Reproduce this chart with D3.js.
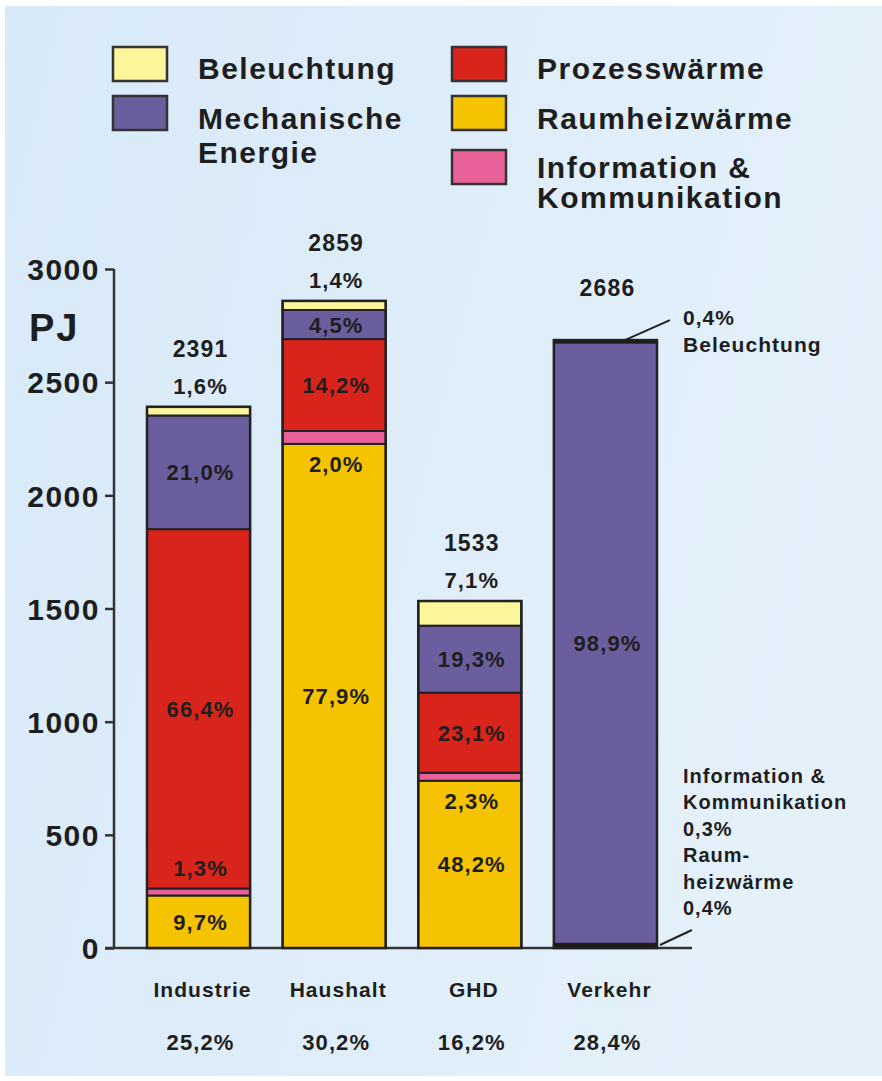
<!DOCTYPE html>
<html>
<head>
<meta charset="utf-8">
<script src="https://cdn.jsdelivr.net/npm/d3@7"></script>
<style>
  html, body { margin: 0; padding: 0; background: #fff; }
  svg text { font-family: "Liberation Sans", Arial, sans-serif; font-weight: bold; fill: #1e1e1e; letter-spacing: 0.05em; }
</style>
</head>
<body>
<svg id="chart" width="882" height="1081"></svg>
<script>
// Endenergie nach Sektoren und Anwendungen (PJ / Anteile in %)
const categories = ["Industrie", "Haushalt", "GHD", "Verkehr"];
const totals = [2391, 2859, 1533, 2686];
const sectorShares = ["25,2%", "30,2%", "16,2%", "28,4%"];

// Anteile je Anwendung in % (von unten nach oben gestapelt)
const raumheizwaerme = [9.7, 77.9, 48.2, 0.4];
const information = [1.3, 2.0, 2.3, 0.3];
const prozesswaerme = [66.4, 14.2, 23.1, 0];
const mechanisch = [21.0, 4.5, 19.3, 98.9];
const beleuchtung = [1.6, 1.4, 7.1, 0.4];

const yTicks = [0, 500, 1000, 1500, 2000, 2500, 3000];

const keys = ["raum", "info", "prozess", "mech", "bel"];
const colors = {
    raum: "#f6c300",
    info: "#e8609a",
    prozess: "#d9241b",
    mech: "#6b5e9f",
    bel: "#fdf59c"
};

const svg = d3.select("#chart");

// background
const defs = svg.append("defs");
const grad = defs.append("linearGradient").attr("id", "bg")
    .attr("x1", 0).attr("y1", 0).attr("x2", 1).attr("y2", 0.3);
grad.append("stop").attr("offset", "0%").attr("stop-color", "#d8e9f8");
grad.append("stop").attr("offset", "100%").attr("stop-color", "#e4f1fb");
svg.append("rect").attr("x", 5).attr("y", 6).attr("width", 877).attr("height", 1070)
    .attr("fill", "url(#bg)");

// rows in PJ
const rows = categories.map((c, i) => {
    const t = totals[i];
    return {
        cat: c, total: t,
        raum: t * raumheizwaerme[i] / 100,
        info: t * information[i] / 100,
        prozess: t * prozesswaerme[i] / 100,
        mech: t * mechanisch[i] / 100,
        bel: t * beleuchtung[i] / 100
    };
});
const pct = {raum: raumheizwaerme, info: information, prozess: prozesswaerme, mech: mechanisch, bel: beleuchtung};

const y = d3.scaleLinear().domain([0, 3000]).range([948, 269]);
const x = d3.scaleBand().domain(categories).range([147, 657]).paddingInner(0.24).paddingOuter(0);

const fmt = v => v.toFixed(1).replace(".", ",") + "%";

// y axis
const axis = svg.append("g").attr("transform", "translate(114,0)")
    .call(d3.axisLeft(y).tickValues(yTicks).tickSize(9).tickPadding(5).tickFormat(d => d));
axis.attr("font-family", null).attr("font-size", null);
axis.select(".domain").attr("stroke", "#333").attr("stroke-width", 2.5).attr("d", "M0,269V948");
axis.selectAll(".tick line").attr("stroke", "#333").attr("stroke-width", 2.5);
axis.selectAll(".tick text").attr("font-size", 30).attr("dy", "0.36em");

svg.append("text").attr("x", 29).attr("y", 341).attr("font-size", 38).text("PJ");

// baseline
svg.append("line").attr("x1", 105).attr("x2", 692).attr("y1", 948).attr("y2", 948)
    .attr("stroke", "#333").attr("stroke-width", 2.5);

// stacked bars
const stacked = d3.stack().keys(keys)(rows);
const layers = svg.append("g").selectAll("g").data(stacked).join("g")
    .attr("fill", d => colors[d.key]);
layers.selectAll("rect").data(d => d).join("rect")
    .attr("x", d => x(d.data.cat))
    .attr("width", x.bandwidth())
    .attr("y", d => y(d[1]))
    .attr("height", d => y(d[0]) - y(d[1]))
    .attr("stroke", "#222").attr("stroke-width", 2);

// Verkehr: very thin segments drawn as dark edges
const vRow = rows[3];
svg.append("g").attr("fill", "#1a1a1a").selectAll("rect")
    .data([[vRow.total - vRow.bel, vRow.total], [0, vRow.raum + vRow.info]]).join("rect")
    .attr("x", x("Verkehr")).attr("width", x.bandwidth())
    .attr("y", d => y(d[1])).attr("height", d => y(d[0]) - y(d[1]));

// bar outlines
svg.append("g").selectAll("rect").data(rows).join("rect")
    .attr("x", d => x(d.cat)).attr("width", x.bandwidth())
    .attr("y", d => y(d.total)).attr("height", d => y(0) - y(d.total))
    .attr("fill", "none").attr("stroke", "#222").attr("stroke-width", 2.5);

// segment labels
const labels = svg.append("g").attr("text-anchor", "middle").attr("font-size", 22);
stacked.forEach(layer => {
    layer.forEach((d, i) => {
        const cat = categories[i];
        if (cat === "Verkehr" && layer.key !== "mech") return;
        const v = pct[layer.key][i];
        if (!v) return;
        const cx = x(cat) + x.bandwidth() / 2 + 2;
        let yy;
        if (layer.key === "bel") {
            yy = y(d[1]) - 13;
        } else if (layer.key === "info") {
            yy = cat === "Industrie" ? y(d[1]) - 12 : y(d[0]) + 28;
        } else {
            yy = (y(d[0]) + y(d[1])) / 2 + 8;
        }
        labels.append("text").attr("x", cx).attr("y", yy).text(fmt(v));
    });
});

// totals
svg.append("g").attr("text-anchor", "middle").attr("font-size", 23)
    .selectAll("text").data(rows).join("text")
    .attr("x", d => x(d.cat) + x.bandwidth() / 2 + 2)
    .attr("y", d => y(d.total) - (d.cat === "Verkehr" ? 44 : 50))
    .text(d => d.total);

// category labels + sector shares
svg.append("g").attr("text-anchor", "middle").attr("font-size", 21)
    .selectAll("text").data(categories).join("text")
    .attr("x", d => x(d) + x.bandwidth() / 2 + 4)
    .attr("y", 997).text(d => d);
svg.append("g").attr("text-anchor", "middle").attr("font-size", 22)
    .selectAll("text").data(sectorShares).join("text")
    .attr("x", (d, i) => x(categories[i]) + x.bandwidth() / 2 + 2)
    .attr("y", 1050).text(d => d);

// Verkehr annotations
const vx = x("Verkehr");
const vTop = y(totals[3]);
svg.append("line").attr("x1", vx + 71).attr("y1", vTop).attr("x2", vx + 116).attr("y2", vTop - 20)
    .attr("stroke", "#222").attr("stroke-width", 2);
svg.append("g").attr("font-size", 21).selectAll("text")
    .data([fmt(beleuchtung[3]), "Beleuchtung"]).join("text")
    .attr("x", 683).attr("y", (d, i) => 325 + i * 27).text(d => d);

svg.append("line").attr("x1", vx + x.bandwidth() + 3).attr("y1", y(0) - 3).attr("x2", vx + 138).attr("y2", y(0) - 18)
    .attr("stroke", "#222").attr("stroke-width", 2);
svg.append("g").attr("font-size", 20).selectAll("text")
    .data(["Information &", "Kommunikation", fmt(information[3]), "Raum-", "heizwärme", fmt(raumheizwaerme[3])])
    .join("text")
    .attr("x", 683).attr("y", (d, i) => 783 + i * 26.4).text(d => d);

// legend
const legendItems = [
    {key: "bel", lines: ["Beleuchtung"], x: 113, y: 47, ty: 79},
    {key: "mech", lines: ["Mechanische", "Energie"], x: 113, y: 96, ty: 129},
    {key: "prozess", lines: ["Prozesswärme"], x: 452, y: 47, ty: 79},
    {key: "raum", lines: ["Raumheizwärme"], x: 452, y: 96, ty: 129},
    {key: "info", lines: ["Information &", "Kommunikation"], x: 452, y: 150, ty: 178}
];
const legend = svg.append("g");
legendItems.forEach(it => {
    legend.append("rect").attr("x", it.x).attr("y", it.y).attr("width", 54).attr("height", 34)
        .attr("fill", colors[it.key]).attr("stroke", "#333").attr("stroke-width", 2.5);
    it.lines.forEach((l, j) => {
        legend.append("text").attr("x", it.x + 85).attr("y", it.ty + j * (it.key === "mech" ? 34 : 30))
            .attr("font-size", 30).text(l);
    });
});
</script>
</body>
</html>
